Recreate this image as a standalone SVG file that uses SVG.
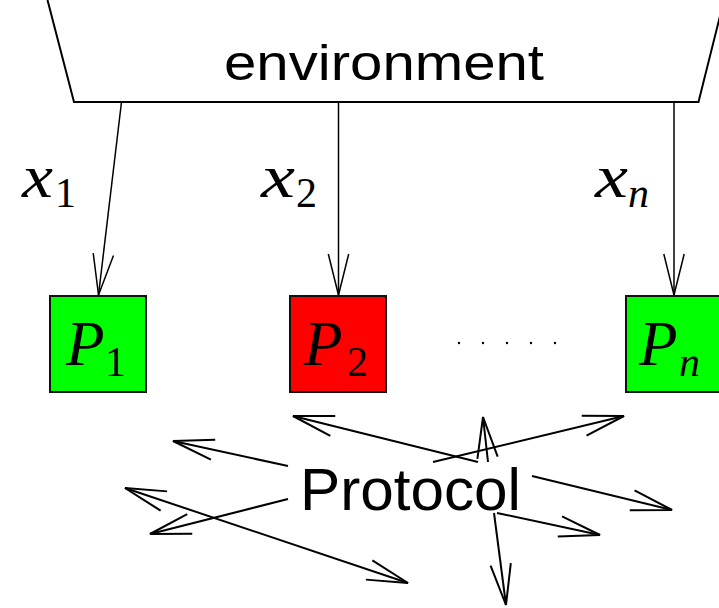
<svg xmlns="http://www.w3.org/2000/svg" width="719" height="608" viewBox="0 0 719 608">
<style>
.sans{font-family:"Liberation Sans",Arial,sans-serif;fill:#000}
.math{font-family:"Liberation Serif","Times New Roman",serif;font-style:italic;fill:#000}
.num{font-family:"Liberation Serif","Times New Roman",serif;font-style:normal;fill:#000}
.box{stroke:#111;stroke-width:2}
.thin{stroke:#000;stroke-width:1.5;fill:none}
.thick{stroke:#000;stroke-width:2;fill:none}
</style>
<defs>
<marker id="ha" markerUnits="userSpaceOnUse" orient="auto" refX="0" refY="0" markerWidth="50" markerHeight="30" overflow="visible">
<path d="M-41,-10.2 L0,0 L-41,10.2" fill="none" stroke="#000" stroke-width="1.5"/>
</marker>
<marker id="hb" markerUnits="userSpaceOnUse" orient="auto-start-reverse" refX="0" refY="0" markerWidth="50" markerHeight="30" overflow="visible">
<path d="M-41,-10.2 L0,0 L-41,10.2" fill="none" stroke="#000" stroke-width="2"/>
</marker>
</defs>
<rect width="719" height="608" fill="#fff"/>
<g id="environment">
<polyline points="47.5,0 74,102 698.5,102 724,0" fill="none" stroke="#000" stroke-width="2"/>
<text class="sans" x="224" y="80" font-size="50" textLength="320" lengthAdjust="spacingAndGlyphs">environment</text>
</g>
<g id="P1">
<rect class="box" x="50" y="296" width="96" height="96" fill="#00ff00"/>
<text class="math" x="66" y="365" font-size="63">P</text>
<text class="num" x="105" y="376" font-size="42">1</text>
</g>
<g id="P2">
<rect class="box" x="290" y="296" width="96" height="96" fill="#ff0000"/>
<text class="math" x="304" y="365" font-size="63">P</text>
<text class="num" x="347" y="376" font-size="42">2</text>
</g>
<g id="dots" fill="#000">
<circle cx="459" cy="343" r="1.2"/>
<circle cx="483" cy="343" r="1.2"/>
<circle cx="507" cy="343" r="1.2"/>
<circle cx="531" cy="343" r="1.2"/>
<circle cx="555" cy="343" r="1.2"/>
</g>
<g id="Pn">
<rect class="box" x="626" y="296" width="96" height="96" fill="#00ff00"/>
<text class="math" x="639" y="365" font-size="63">P</text>
<text class="math" x="679" y="376" font-size="42">n</text>
</g>
<g id="protocol">
<text class="sans" x="300" y="510" font-size="59" textLength="221" lengthAdjust="spacingAndGlyphs">Protocol</text>
</g>
<g id="connectors">
<line class="thin" x1="121.5" y1="102" x2="98.5" y2="295" marker-end="url(#ha)"/>
<line class="thin" x1="338.5" y1="102" x2="338.5" y2="295" marker-end="url(#ha)"/>
<line class="thin" x1="674" y1="102" x2="674" y2="295" marker-end="url(#ha)"/>
<text class="math" x="22" y="197" font-size="62" textLength="31" lengthAdjust="spacingAndGlyphs">x</text>
<text class="num" x="55" y="207" font-size="42">1</text>
<text class="math" x="261" y="197" font-size="62" textLength="34" lengthAdjust="spacingAndGlyphs">x</text>
<text class="num" x="296" y="207" font-size="42">2</text>
<text class="math" x="595" y="197" font-size="62" textLength="33" lengthAdjust="spacingAndGlyphs">x</text>
<text class="math" x="628" y="207" font-size="42">n</text>
<line class="thick" x1="288" y1="466" x2="173" y2="441" marker-end="url(#hb)"/>
<line class="thick" x1="288" y1="499" x2="150" y2="534" marker-end="url(#hb)"/>
<line class="thick" x1="125" y1="488" x2="408" y2="583" marker-start="url(#hb)" marker-end="url(#hb)"/>
<line class="thick" x1="478" y1="462" x2="293" y2="416" marker-end="url(#hb)"/>
<line class="thick" x1="433" y1="462" x2="624" y2="416" marker-end="url(#hb)"/>
<line class="thick" x1="488" y1="462" x2="483" y2="417" marker-end="url(#hb)"/>
<line class="thick" x1="532" y1="476" x2="672" y2="510" marker-end="url(#hb)"/>
<line class="thick" x1="497" y1="513" x2="600" y2="535" marker-end="url(#hb)"/>
<line class="thick" x1="494" y1="513" x2="506" y2="605" marker-end="url(#hb)"/>
</g>
</svg>
